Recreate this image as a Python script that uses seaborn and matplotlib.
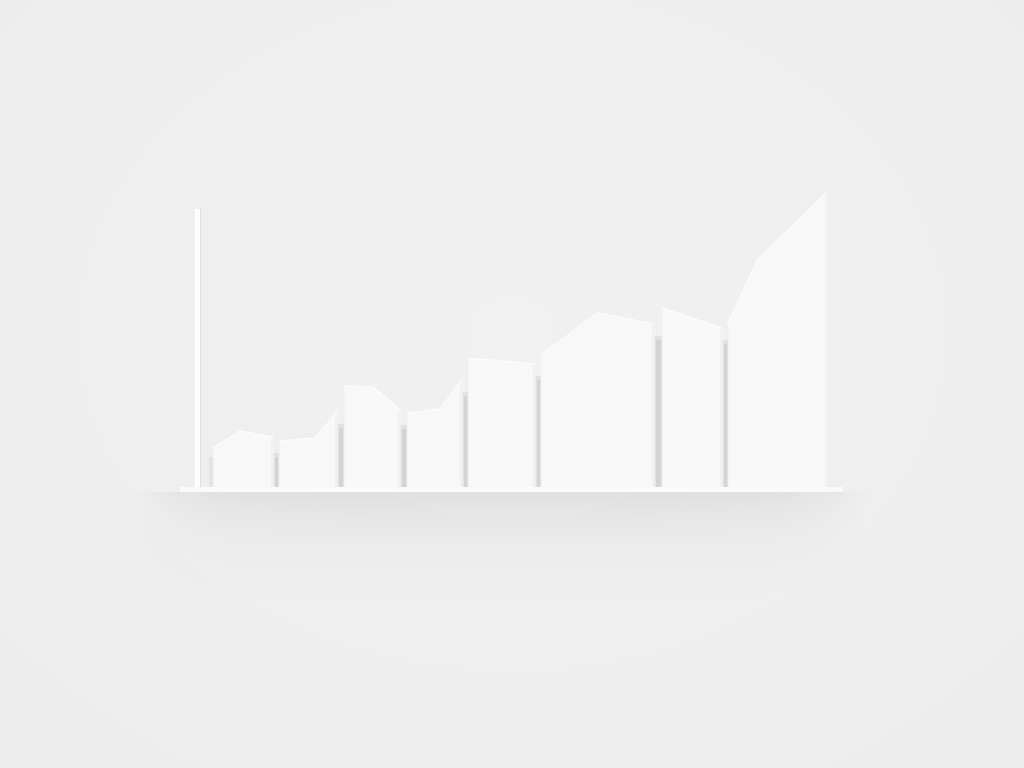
import numpy as np
import pandas as pd
import matplotlib
matplotlib.use("Agg")
import matplotlib.pyplot as plt
import seaborn as sns

# ---- data (baseline = 0, tallest point = 100) ----
categories = ["A", "B", "C", "D", "E", "F", "G", "H"]
left_values = [13.2, 15.6, 34.2, 25.1, 43.7, 44.7, 60.7, 55.6]
mid_values = [19.0, 16.6, 33.9, 26.4, 42.7, 59.0, 57.3, 77.0]
right_values = [16.9, 25.4, 26.1, 36.3, 41.7, 55.3, 53.9, 100.0]
mid_fraction = [0.45, 0.62, 0.52, 0.60, 0.50, 0.50, 0.50, 0.30]
bar_widths = [60, 58, 56, 55, 67, 113, 60, 99]
gap_widths = [6, 7, 7, 6, 6, 8, 6]

sns.set_theme(style="white")
plt.rcParams["font.family"] = ["DejaVu Sans"]

W, H = 1024, 768
fig = plt.figure(figsize=(W / 100, H / 100), dpi=100)
fig.patch.set_facecolor("#eeeeee")

# background gradient
bg = fig.add_axes([0, 0, 1, 1])
yy, xx = np.mgrid[0:H, 0:W]
r = np.sqrt(((xx - 512) / 700.0) ** 2 + ((yy - 330) / 550.0) ** 2)
g = 0.946 - 0.014 * np.clip(r, 0, 1.4)
bg.imshow(np.dstack([g, g, g]), extent=[0, W, H, 0], aspect="auto", zorder=0)
# soft shadow under the shelf
sh_y = np.linspace(0, 1, 200)
shade = np.exp(-sh_y * 4.0)
sx = np.linspace(-1, 1, 400)
edge = np.clip(1 - np.abs(sx) ** 6, 0, 1)
alpha = 0.07 * np.outer(shade, edge)
rgba = np.zeros((200, 400, 4))
rgba[..., 3] = alpha
bg.imshow(rgba, extent=[130, 870, 640, 492], aspect="auto", zorder=1)
bg.set_xlim(0, W)
bg.set_ylim(H, 0)
bg.axis("off")

# main axes: x in pixel-like units, y in value units
x0_px, x1_px = 170, 860
y_top_px, y_bot_px = 170, 510
ax = fig.add_axes([x0_px / W, 1 - y_bot_px / H, (x1_px - x0_px) / W, (y_bot_px - y_top_px) / H])
ax.patch.set_alpha(0)
px_per_unit = 2.95
base_px = 487
ax.set_xlim(x0_px - 213, x1_px - 213)
ax.set_ylim((base_px - y_bot_px) / px_per_unit, (base_px - y_top_px) / px_per_unit)
ax.axis("off")

# bar positions
lefts = []
pos = 0.0
for i, w in enumerate(bar_widths):
    lefts.append(pos)
    pos += w + (gap_widths[i] if i < len(gap_widths) else 0)
rights = [l + w for l, w in zip(lefts, bar_widths)]

df = pd.DataFrame({
    "category": categories, "left": lefts, "right": rights,
    "lv": left_values, "mv": mid_values, "rv": right_values, "mf": mid_fraction,
})

# gap shadows
for i in range(len(df) - 1):
    a, b = df.iloc[i], df.iloc[i + 1]
    top = min(a.rv, b.lv) - 4
    ax.fill_between([a.right, b.left], 0, top, color="#e2e2e2", lw=0, zorder=2)
    ax.fill_between([a.right + 1.5, b.left - 1.0], 0, top - 1.5, color="#d4d4d4", lw=0, zorder=2)

# left shadow of first bar
ax.fill_between([df.left[0] - 4, df.left[0]], 0, df.lv[0] - 3, color="#e4e4e4", lw=0, zorder=2)

# bars as polygons with slanted tops
for _, row in df.iterrows():
    xm = row.left + row.mf * (row.right - row.left)
    xs = [row.left, xm, row.right]
    ys = [row.lv, row.mv, row.rv]
    ax.fill_between(xs, 0, ys, color="#f8f8f8", lw=0, zorder=3)
    sns.lineplot(x=xs, y=ys, ax=ax, color="#fdfdfd", lw=1.0, zorder=4, legend=False)
    # right-side edge shading
    ax.fill_between([row.right - 2, row.right], 0, row.rv, color="#f1f1f1", lw=0, zorder=3)

# vertical axis post
ax.fill_between([-18, -13], 0, (base_px - 209) / px_per_unit, color="#fdfdfd", lw=0, zorder=3)
ax.fill_between([-13, -12], 0, (base_px - 209) / px_per_unit, color="#dedede", lw=0, zorder=3)

# shelf / baseline plate
ax.fill_between([-33, 630], -1.7, 0.0, color="#fafafa", lw=0, zorder=5)
ax.fill_between([-33, 630], -1.9, -1.6, color="#e4e4e4", lw=0, zorder=5)

fig.savefig("out.png", dpi=100)
